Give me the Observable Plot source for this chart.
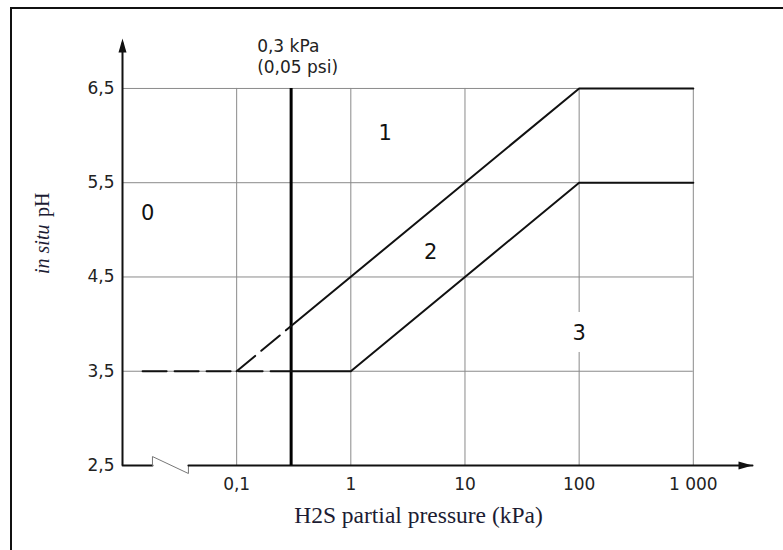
<!DOCTYPE html>
<html>
<head>
<meta charset="utf-8">
<script src="https://cdn.jsdelivr.net/npm/d3@7"></script>
<script src="https://cdn.jsdelivr.net/npm/@observablehq/plot@0.6"></script>
<style>
  html, body { margin: 0; padding: 0; background: white; }
  #wrap { position: relative; width: 783px; height: 550px; overflow: hidden; }
  #border { position: absolute; left: 10px; top: 7px; width: 900px; height: 700px;
            border-top: 2px solid #111; border-left: 2px solid #111; pointer-events: none; }
</style>
</head>
<body>
<div id="wrap"><div id="border"></div></div>
<script>
// Axis ticks
const xTicks = [0.1, 1, 10, 100, 1000];
const xTickLabels = ["0,1", "1", "10", "100", "1 000"];
const yTicks = [2.5, 3.5, 4.5, 5.5, 6.5];
const yTickLabels = ["2,5", "3,5", "4,5", "5,5", "6,5"];
// Axis extents
const xMin = 0.01, xMax = 3300;
const yMin = 2.5, yMax = 7.03;
// Axis break (zigzag) on the x axis
const breakX = [0.0183, 0.0183, 0.0378, 0.0378];
const breakY = [2.5, 2.595, 2.415, 2.5];
// Grid
const gridX = [0.1, 1, 10, 100, 1000];
const gridY = [3.5, 4.5, 5.5, 6.5];
// 0,3 kPa limit
const limitX = 0.3;
// Boundary 1|2 (upper)
const upperDashX = [0.1, 0.3], upperDashY = [3.5, 3.98];
const upperX = [0.3, 100, 1000], upperY = [3.98, 6.5, 6.5];
// Boundary 2|3 (lower)
const lowerDashX = [0.015, 0.3], lowerDashY = [3.5, 3.5];
const lowerX = [0.3, 1, 100, 1000], lowerY = [3.5, 3.5, 5.5, 5.5];
// Region labels
const regionLabels = ["0", "1", "2"];
const regionX = [0.0166, 2.0, 5.0];
const regionY = [5.18, 6.02, 4.76];
const region3Label = "3", region3X = 100, region3Y = 3.90;
// Annotation
const annLines = ["0,3 kPa", "(0,05 psi)"];
const annY = [6.94, 6.72];

const pts = (xs, ys) => xs.map((x, i) => ({x, y: ys[i]}));

const arrowSymbol = {
  draw(ctx) {
    ctx.moveTo(0, 0);
    ctx.lineTo(-4, 14);
    ctx.lineTo(4, 14);
    ctx.closePath();
  }
};

const sans = "'DejaVu Sans', 'Liberation Sans', Arial, sans-serif";
const serif = "'Liberation Serif', 'Times New Roman', serif";

const chart = Plot.plot({
  width: 783,
  height: 550,
  marginLeft: 122,
  marginRight: 31,
  marginTop: 38,
  marginBottom: 85,
  style: {fontFamily: sans, color: "#222", background: "transparent", overflow: "visible"},
  x: {type: "log", domain: [xMin, xMax]},
  y: {domain: [yMin, yMax]},
  marks: [
    Plot.axisX(xTicks, {tickFormat: d => xTickLabels[xTicks.indexOf(d)], tickSize: 0, tickPadding: 12, fontSize: 17, label: null, fill: "#222"}),
    Plot.axisY(yTicks, {tickFormat: d => yTickLabels[yTicks.indexOf(d)], tickSize: 0, tickPadding: 8, fontSize: 17, label: null, fill: "#222"}),
    Plot.ruleY(gridY, {x1: xMin, x2: 1000, stroke: "#8a8a8a", strokeWidth: 1}),
    Plot.ruleX(gridX, {y1: yMin, y2: 6.5, stroke: "#8a8a8a", strokeWidth: 1}),
    // axes
    Plot.ruleX([xMin], {y1: yMin, y2: yMax - 0.05, stroke: "#111", strokeWidth: 2}),
    Plot.dot([{x: xMin, y: yMax}], {x: "x", y: "y", symbol: arrowSymbol, fill: "#111", stroke: "none"}),
    Plot.line(pts([xMin, breakX[0]], [yMin, yMin]), {x: "x", y: "y", stroke: "#111", strokeWidth: 2}),
    Plot.line(pts(breakX, breakY), {x: "x", y: "y", stroke: "#777", strokeWidth: 1}),
    Plot.line(pts([breakX[3], xMax], [yMin, yMin]), {x: "x", y: "y", stroke: "#111", strokeWidth: 2}),
    Plot.dot([{x: xMax, y: yMin}], {x: "x", y: "y", symbol: arrowSymbol, rotate: 90, fill: "#111", stroke: "none"}),
    // limit line
    Plot.ruleX([limitX], {y1: yMin, y2: 6.5, stroke: "#000", strokeWidth: 3}),
    // boundaries
    Plot.line(pts(upperDashX, upperDashY), {x: "x", y: "y", stroke: "#111", strokeWidth: 2, strokeDasharray: "24,8"}),
    Plot.line(pts(upperX, upperY), {x: "x", y: "y", stroke: "#111", strokeWidth: 2}),
    Plot.line(pts(lowerDashX, lowerDashY), {x: "x", y: "y", stroke: "#111", strokeWidth: 2, strokeDasharray: "24,8"}),
    Plot.line(pts(lowerX, lowerY), {x: "x", y: "y", stroke: "#111", strokeWidth: 2}),
    // region labels
    Plot.text(regionLabels, {x: (d, i) => regionX[i], y: (d, i) => regionY[i], text: d => d,
      fontSize: 21, fill: "#111"}),
    Plot.text([region3Label], {x: region3X, y: region3Y, text: d => d,
      fontSize: 21, fill: "#111", stroke: "white", strokeWidth: 24}),
    // annotation
    Plot.text(annLines, {x: limitX, y: (d, i) => annY[i], text: d => d, textAnchor: "start", dx: -34, fontSize: 17, fill: "#222"}),
    // axis titles
    Plot.text(["H2S partial pressure (kPa)"], {frameAnchor: "bottom", dx: -19, dy: 57, text: d => d,
      fontFamily: serif, fontSize: 23.5, fill: "#1c1c33"}),
    Plot.text(["in situ"], {frameAnchor: "left", dx: -80, dy: 22, rotate: -90, textAnchor: "start", text: d => d,
      fontFamily: serif, fontStyle: "italic", fontSize: 20, fill: "#1c1c33"}),
    Plot.text(["pH"], {frameAnchor: "left", dx: -80, dy: -35, rotate: -90, textAnchor: "start", text: d => d,
      fontFamily: serif, fontSize: 20, fill: "#1c1c33"})
  ]
});
document.getElementById("wrap").prepend(chart);
</script>
</body>
</html>
